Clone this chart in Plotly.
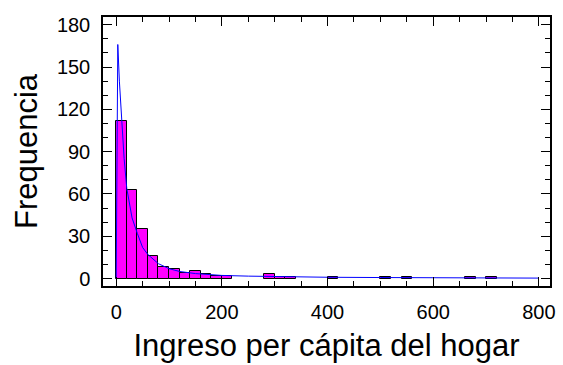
import plotly.graph_objects as go

# Histogram of household per-capita income (bin width 20)
bin_width = 20
bin_left = [0, 20, 40, 60, 80, 100, 120, 140, 160, 180, 200, 280, 300, 320, 400, 500, 540, 660, 700]
counts = [112, 63, 35, 16, 8, 7, 4, 5, 3, 2, 2, 3, 1, 1, 1, 1, 1, 1, 1]

# Fitted density curve, scaled to frequency
curve_x = [0, 3, 6, 10, 15, 20, 25, 30, 40, 50, 60, 80, 100, 120, 150, 200, 250, 300, 400, 500, 600, 700, 800]
curve_y = [0, 166, 140, 112, 85, 64, 52, 43, 32, 22, 17, 10.5, 7, 5, 3.5, 2.2, 1.7, 1.3, 0.9, 0.7, 0.5, 0.4, 0.3]

x_ticks = [0, 200, 400, 600, 800]
y_ticks = [0, 30, 60, 90, 120, 150, 180]

bin_centers = [b + bin_width / 2 for b in bin_left]

fig = go.Figure()
fig.add_trace(go.Bar(
    x=bin_centers, y=counts, width=bin_width,
    marker=dict(color="#FF00FF", line=dict(color="black", width=1)),
    showlegend=False,
))
fig.add_trace(go.Scatter(
    x=curve_x, y=curve_y, mode="lines",
    line=dict(color="#0000FF", width=1),
    showlegend=False,
))

font = "Liberation Sans, Arial, sans-serif"
axis_common = dict(
    showline=True, linecolor="black", linewidth=1.5, mirror="allticks",
    ticks="inside", ticklen=9, tickwidth=1, tickcolor="black",
    showgrid=False, zeroline=False,
    tickfont=dict(family=font, size=20, color="black"),
)

fig.update_layout(
    width=563, height=365,
    margin=dict(l=103, r=8, t=17, b=74),
    paper_bgcolor="white", plot_bgcolor="white",
    bargap=0,
    xaxis=dict(
        range=[-25, 821], tickvals=x_ticks,
        minor=dict(dtick=50, tick0=0, ticklen=5, ticks="inside", tickcolor="black"),
        ticklabelstandoff=7,
        title=dict(text="Ingreso per cápita del hogar",
                   font=dict(family=font, size=31, color="black"), standoff=13),
        **axis_common,
    ),
    yaxis=dict(
        range=[-5.3, 185.5], tickvals=y_ticks,
        minor=dict(dtick=10, tick0=0, ticklen=5, ticks="inside", tickcolor="black"),
        ticklabelstandoff=7,
        title=dict(text="Frequencia",
                   font=dict(family=font, size=31, color="black"), standoff=10),
        **axis_common,
    ),
)

fig.write_html("out.html")
